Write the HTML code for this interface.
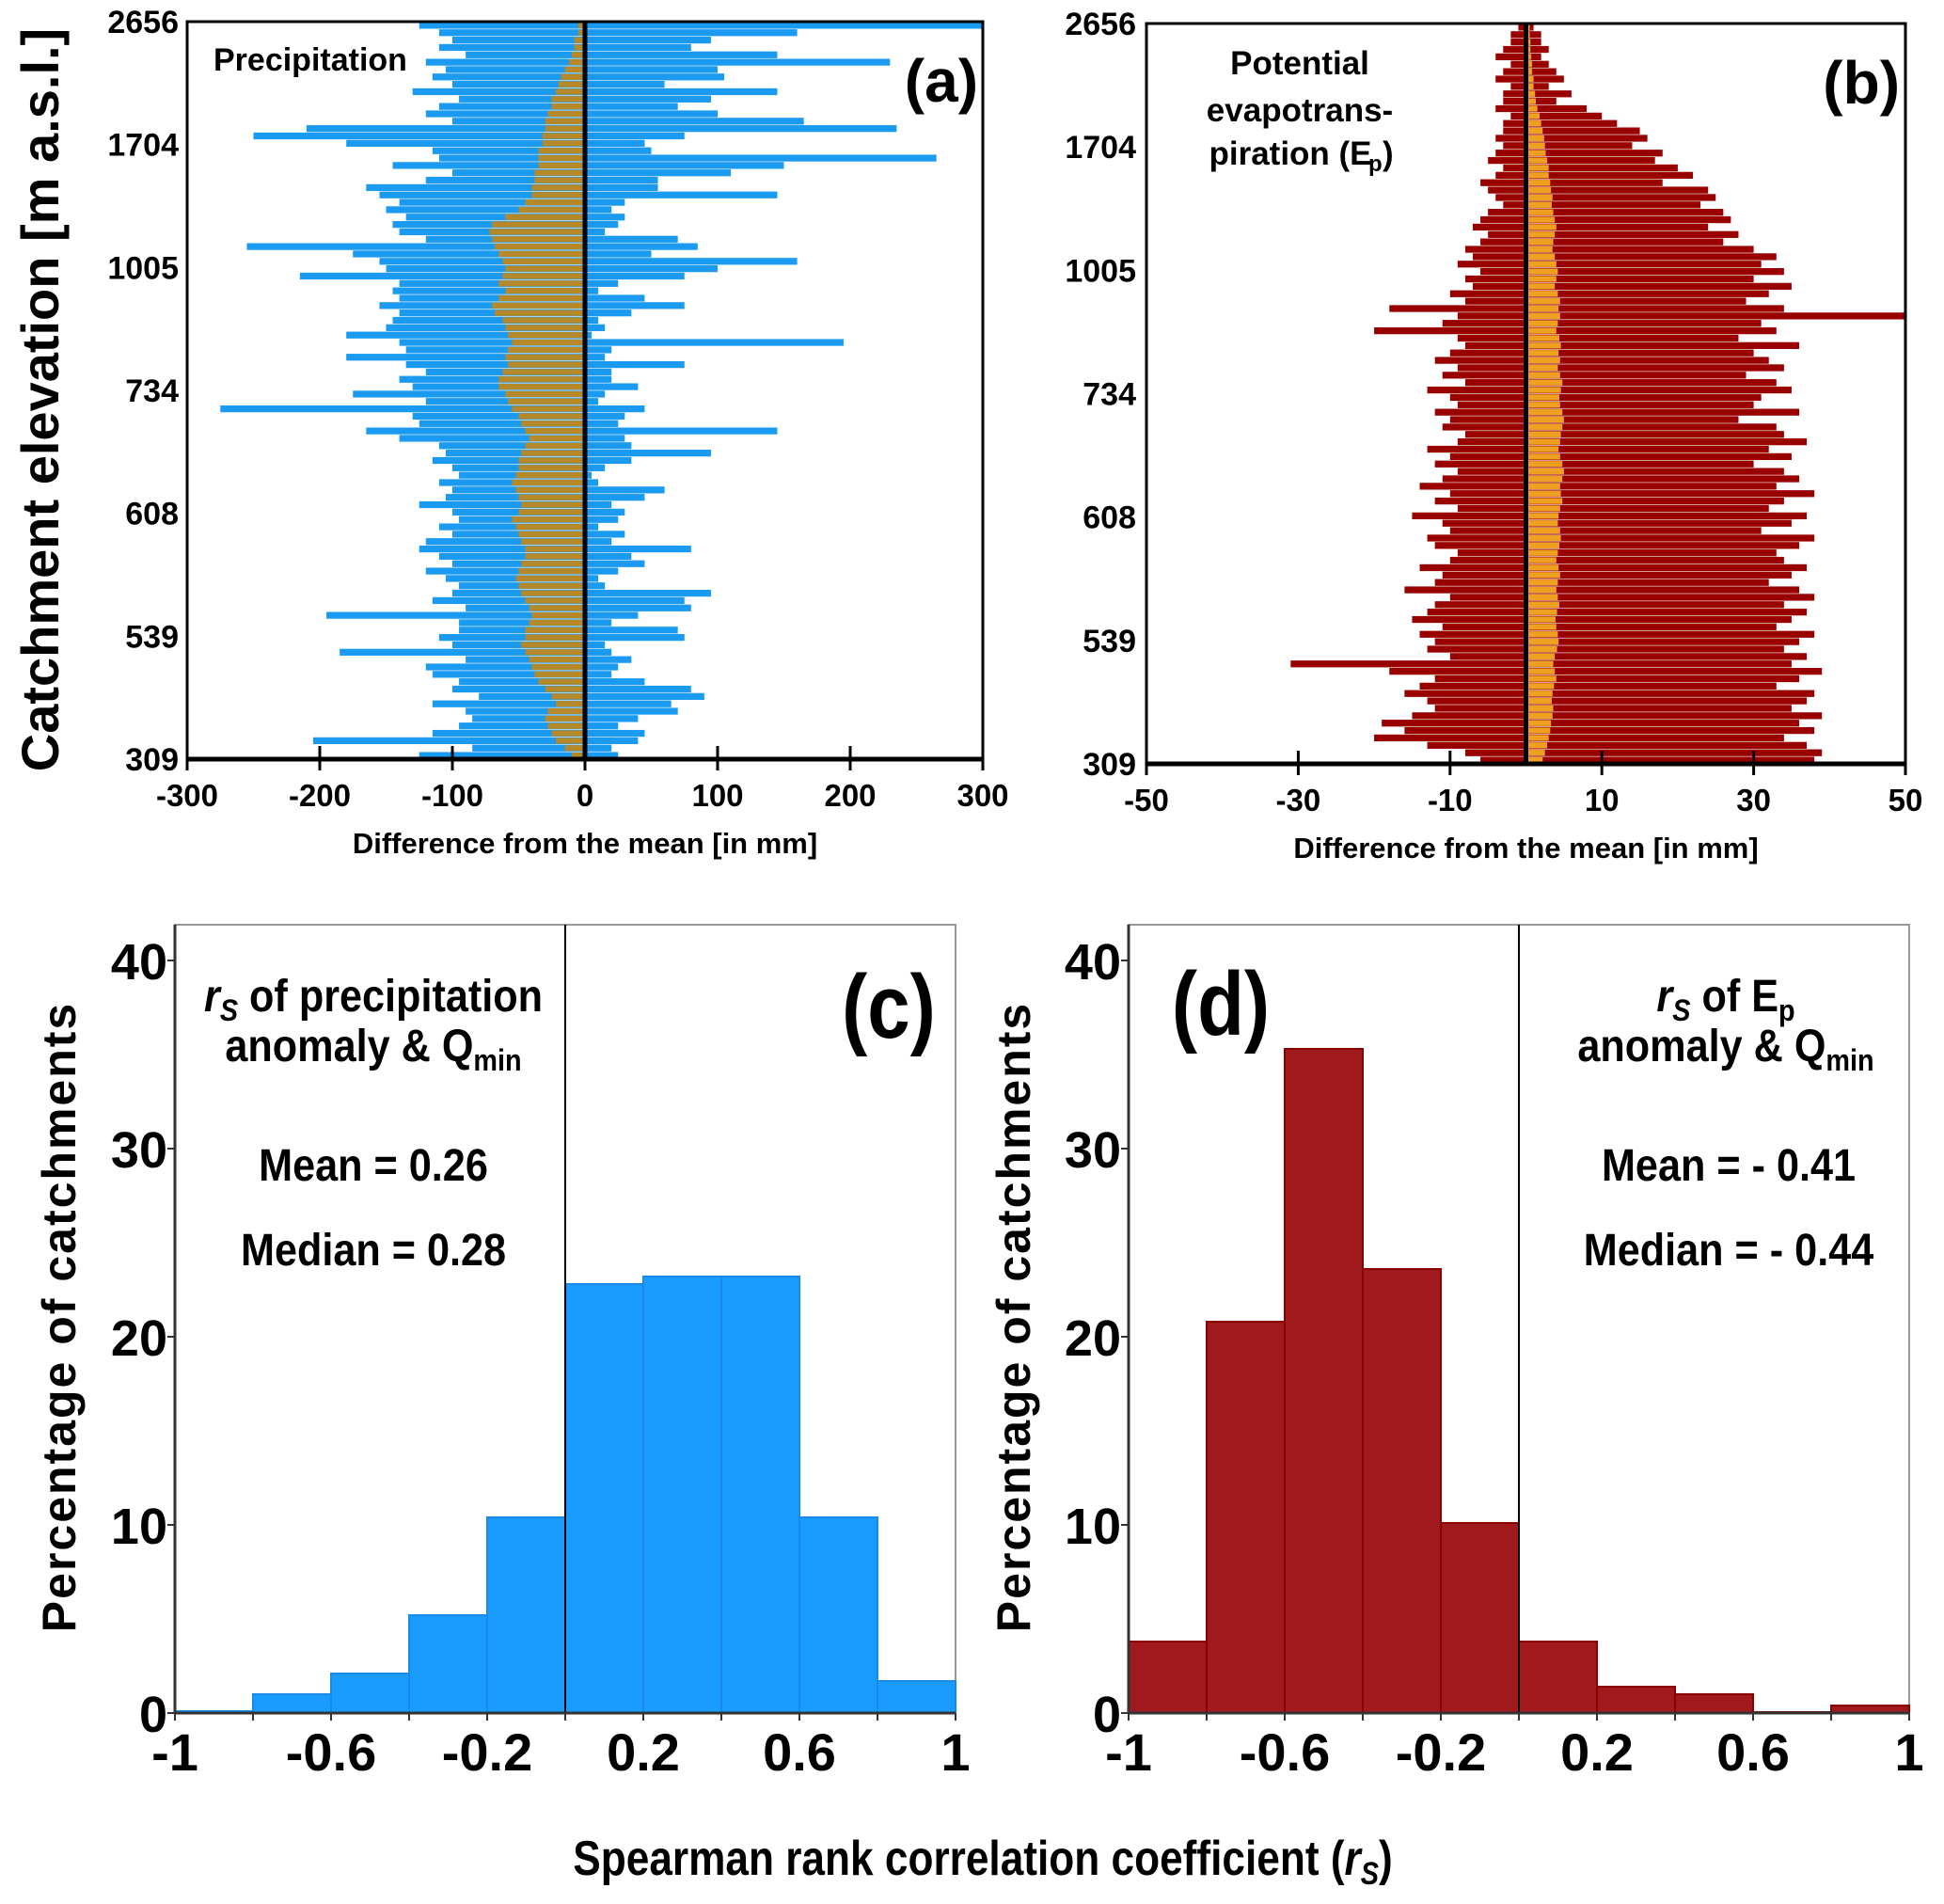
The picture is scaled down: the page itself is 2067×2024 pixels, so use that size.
<!DOCTYPE html>
<html><head><meta charset="utf-8">
<style>
html,body{margin:0;padding:0;background:#fff;}
svg text{font-family:"Liberation Sans",Arial,sans-serif;font-weight:bold;fill:#000;}
</style></head>
<body>
<svg id="fig" width="2067" height="2019" viewBox="0 0 2067 2019" xmlns="http://www.w3.org/2000/svg">
<g id="pa"></g>
<g id="pb"></g>
<g id="pc"></g>
<g id="pd"></g>
</svg>
<script>
const elevLabels = ["2656","1704","1005","734","608","539","309"];
const aTicks = [-300,-200,-100,0,100,200,300];
const bTicks = [-50,-30,-10,10,30,50];
const aNeg = [-125,-110,-100,-110,-90,-120,-105,-115,-100,-130,-95,-110,-120,-100,-210,-250,
-180,-115,-110,-145,-100,-120,-165,-155,-140,-150,-135,-145,-140,-120,-255,
-175,-155,-150,-215,-140,-145,-140,-155,-140,-145,-150,-180,-140,-135,-180,
-135,-120,-140,-130,-175,-120,-275,-130,-125,-165,-140,-110,-105,-115,-100,
-95,-110,-100,-105,-125,-100,-95,-110,-100,-120,-125,-110,-100,-120,-105,
-95,-100,-115,-90,-195,-95,-95,-110,-100,-185,-90,-120,-115,-95,-100,
-80,-115,-90,-85,-95,-115,-205,-85,-125];
const aPos = [300,160,95,80,145,230,100,105,60,145,95,70,100,165,235,75,
45,50,265,150,110,55,55,145,30,20,30,25,15,70,85,
50,160,100,75,25,10,45,75,35,10,15,5,195,20,15,
75,20,20,40,15,10,45,30,25,145,30,35,95,35,15,
5,10,60,45,20,30,25,10,30,20,80,35,45,25,10,
15,95,75,80,40,20,70,75,15,20,35,25,20,45,80,
90,65,70,40,25,45,40,20,25];
const aBrown = [-5,-5,-8,-8,-10,-12,-15,-18,-20,-22,-25,-25,-28,-30,-30,-32,
-32,-35,-35,-35,-38,-38,-40,-40,-45,-50,-60,-70,-72,-70,-68,
-65,-62,-60,-62,-65,-60,-65,-70,-68,-62,-60,-58,-55,-58,-60,
-58,-62,-65,-65,-60,-58,-55,-50,-48,-45,-42,-45,-48,-50,-50,
-52,-55,-52,-50,-48,-50,-55,-52,-50,-48,-45,-45,-48,-50,-52,
-50,-48,-45,-42,-40,-42,-45,-45,-48,-45,-42,-40,-38,-35,-30,
-25,-22,-28,-30,-28,-25,-22,-15,-10];
const bNeg = [-1,-2,-2,-3,-4,-2,-3,-4,-2,-3,-3,-4,-2,-3,-3,-4,
-3,-4,-5,-3,-4,-6,-5,-4,-3,-5,-6,-7,-5,-6,-8,
-7,-9,-6,-8,-7,-10,-8,-18,-9,-11,-20,-9,-8,-10,-12,
-9,-11,-8,-13,-10,-9,-12,-10,-11,-8,-9,-13,-10,-12,-9,
-11,-14,-10,-12,-9,-15,-11,-10,-13,-12,-9,-10,-14,-11,-12,
-16,-10,-12,-13,-15,-11,-14,-12,-13,-10,-31,-18,-12,-14,-16,
-13,-12,-15,-19,-16,-20,-13,-8,-6];
const bPos = [1,2,2,3,2,3,4,5,3,6,4,8,10,12,15,16,
14,18,17,20,22,18,24,25,23,26,27,24,28,26,30,
33,31,34,30,35,32,29,34,50,31,33,28,36,30,32,
34,29,33,35,31,30,36,28,33,34,37,32,35,30,34,
36,33,38,34,32,37,35,31,38,36,33,34,37,35,32,
36,38,34,37,35,33,38,36,34,37,35,39,36,33,38,
37,35,39,36,38,34,37,39,38];
const bOrange = [0.5,0.5,0.6,0.6,0.7,0.8,0.8,1,1,1.2,1.3,1.5,1.8,2,2.2,2.4,
2.5,2.6,2.8,3,3,3.2,3.3,3.5,3.4,3.6,3.8,4,3.8,3.6,3.5,
3.8,4,4.2,4,3.8,4.2,4.5,4.3,4.5,4.2,4,4.4,4.6,4.3,4.5,
4.2,4.5,4.8,4.6,4.4,4.5,4.8,5,4.8,4.6,4.5,4.3,4.5,4.8,5,
4.8,4.5,4.6,4.8,4.5,4.3,4.2,4.5,4.6,4.4,4.2,4,4.3,4.5,4.2,
4,4.2,4.4,4.1,3.9,4,4.2,4.3,4.1,3.8,3.6,3.8,4,3.7,3.5,
3.4,3.6,3.5,3.3,3.2,3,2.8,2.5,2.2];
const histBins = [-1,-0.8,-0.6,-0.4,-0.2,0,0.2,0.4,0.6,0.8];
const histC = [0.1,1.0,2.1,5.2,10.4,22.8,23.2,23.2,10.4,1.7];
const histD = [3.8,20.8,35.3,23.6,10.1,3.8,1.4,1.0,0.05,0.4];
const histXLabels = [-1,-0.6,-0.2,0.2,0.6,1];
const histYTicks = [0,10,20,30,40];

const NS="http://www.w3.org/2000/svg";
function mk(parent,tag,attrs,text){const e=document.createElementNS(NS,tag);for(const k in attrs)e.setAttribute(k,attrs[k]);if(text!==undefined)e.textContent=text;parent.appendChild(e);return e;}

function barPanel(g,X0,X1,Y0,Y1,xmin,xmax,neg,pos,inner,cOuter,cInner,ticks,labX){
  const sx=v=>X0+(v-xmin)/(xmax-xmin)*(X1-X0);
  const n=neg.length,rh=(Y1-Y0)/n;
  for(let i=0;i<n;i++){
    const y=Y0+i*rh+0.3;
    const r=mk(g,'rect',{x:sx(neg[i]),y:y,width:sx(pos[i])-sx(neg[i]),height:rh-0.6,fill:cOuter});
    
    
    const a=sx(0),b=sx(inner[i]);
    const r2=mk(g,'rect',{x:Math.min(a,b),y:y+0.5,width:Math.abs(b-a),height:rh-1.6,fill:cInner});
    
    
  }
  const z=mk(g,'line',{x1:sx(0),x2:sx(0),y1:Y0,y2:Y1,stroke:'#000','stroke-width':5});
  
  const f=mk(g,'rect',{x:X0,y:Y0,width:X1-X0,height:Y1-Y0,fill:'none',stroke:'#000','stroke-width':3});
  
  mk(g,'line',{x1:X0,x2:X1,y1:Y1,y2:Y1,stroke:'#000','stroke-width':5});
  ticks.forEach(t=>{
    mk(g,'line',{x1:sx(t),x2:sx(t),y1:Y1-14,y2:Y1+12,stroke:'#000','stroke-width':3});
    const tx=mk(g,'text',{x:sx(t),y:Y1+50,'font-size':33,'text-anchor':'middle'},String(t));
    
  });
  elevLabels.forEach((l,i)=>{
    const y=Y0+i*(Y1-Y0)/(elevLabels.length-1);
    const tx=mk(g,'text',{x:labX,y:y+12,'font-size':34,'text-anchor':'end'},l);
    
  });
  const xt=mk(g,'text',{x:(X0+X1)/2,y:Y1+100,'font-size':31,'text-anchor':'middle'},'Difference from the mean  [in mm]');
  
}

function histPanel(g,X0,vals,color,edge,titleX){
  const W=830,xs=v=>X0+(v+1)/2*W,ys=v=>1821-v*20;
  const f=mk(g,'rect',{x:X0,y:983,width:W,height:838,fill:'none',stroke:'#999','stroke-width':2});
  
  vals.forEach((v,i)=>{
    const r=mk(g,'rect',{x:xs(histBins[i]),y:ys(v),width:xs(histBins[i]+0.2)-xs(histBins[i]),height:1821-ys(v),fill:color,stroke:edge,'stroke-width':2});
    
  });
  mk(g,'line',{x1:xs(0),x2:xs(0),y1:983,y2:1821,stroke:'#000','stroke-width':2});
  mk(g,'line',{x1:X0,x2:X0,y1:983,y2:1821,stroke:'#333','stroke-width':3});
  mk(g,'line',{x1:X0,x2:X0+W,y1:1821,y2:1821,stroke:'#333','stroke-width':3});
  histYTicks.forEach(t=>{
    mk(g,'line',{x1:X0-8,x2:X0,y1:ys(t),y2:ys(t),stroke:'#333','stroke-width':2});
    const tx=mk(g,'text',{x:X0-8,y:ys(t)+20,'font-size':54,'text-anchor':'end'},String(t));
    
  });
  histBins.concat([1]).forEach(b=>mk(g,'line',{x1:xs(b),x2:xs(b),y1:1821,y2:1829,stroke:'#333','stroke-width':2}));
  histXLabels.forEach(t=>{
    const tx=mk(g,'text',{x:xs(t),y:1882,'font-size':56,'text-anchor':'middle'},String(t));
    
  });
  const yt=mk(g,'text',{x:0,y:0,'font-size':50,'text-anchor':'middle',transform:`translate(${titleX},1400) rotate(-90)`,'letter-spacing':'2'},'Percentage of catchments');
  
}

const pa=document.getElementById('pa');
barPanel(pa,199,1045,23,807,-300,300,aNeg,aPos,aBrown,'#1a9af0','#b5892a',aTicks,190);
const t1=mk(pa,'text',{x:227,y:75,'font-size':34},'Precipitation');

const la=mk(pa,'text',{x:1040,y:108,'font-size':64,'text-anchor':'end'},'(a)');

const yta=mk(pa,'text',{x:0,y:0,'font-size':56,'text-anchor':'middle',transform:'translate(62,425) rotate(-90)'},'Catchment elevation [m a.s.l.]');


const pb=document.getElementById('pb');
barPanel(pb,1219,2026,25,812,-50,50,bNeg,bPos,bOrange,'#990000','#f0a020',bTicks,1208);
[['Potential',67],['evapotrans-',117],['piration (E',163]].forEach(([s,y],i)=>{
  const tx=mk(pb,'text',{x:i==2?1372:1382,y:y+12,'font-size':35,'text-anchor':'middle'},s);
  
});
mk(pb,'text',{x:1455,y:182,'font-size':24},'p');
mk(pb,'text',{x:1470,y:175,'font-size':35},')');
const lb=mk(pb,'text',{x:2020,y:110,'font-size':64,'text-anchor':'end'},'(b)');


const pc=document.getElementById('pc');
histPanel(pc,186,histC,'#1a9cff','#1a8ae8',80);
const pd=document.getElementById('pd');
histPanel(pd,1200,histD,'#a0191c','#8a0000',1095);

function txt(g,x,y,size,html,name,sx){
  const t=mk(g,'text',{x:0,y:0,'font-size':size,'text-anchor':'middle',transform:`translate(${x},${y}) scale(${sx||0.9},1)`});
  t.innerHTML=html;
  
  return t;
}
txt(pc,397,1075,48,'<tspan font-style="italic">r</tspan><tspan font-size="32" dy="10" font-style="italic">S</tspan><tspan dy="-10"> of precipitation</tspan>','annotation-title');
txt(pc,397,1128,48,'anomaly &amp; Q<tspan font-size="32" dy="10">min</tspan>','annotation-title');
txt(pc,397,1255,48,'Mean = 0.26','annotation-mean');
txt(pc,397,1345,48,'Median = 0.28','annotation-median');
txt(pc,945,1103,96,'(c)','panel-letter',0.85);
txt(pd,1835,1075,48,'<tspan font-style="italic">r</tspan><tspan font-size="32" dy="10" font-style="italic">S</tspan><tspan dy="-10"> of E</tspan><tspan font-size="32" dy="10">p</tspan>','annotation-title');
txt(pd,1835,1128,48,'anomaly &amp; Q<tspan font-size="32" dy="10">min</tspan>','annotation-title');
txt(pd,1838,1255,48,'Mean = - 0.41','annotation-mean');
txt(pd,1838,1345,48,'Median = - 0.44','annotation-median');
txt(pd,1298,1100,96,'(d)','panel-letter',0.85);
txt(document.getElementById('fig'),1045,1993,52,'Spearman rank correlation coefficient  (<tspan font-style="italic">r</tspan><tspan font-size="34" dy="10" font-style="italic">S</tspan><tspan dy="-10">)</tspan>','x-axis-title',0.85);
</script>
</body></html>
